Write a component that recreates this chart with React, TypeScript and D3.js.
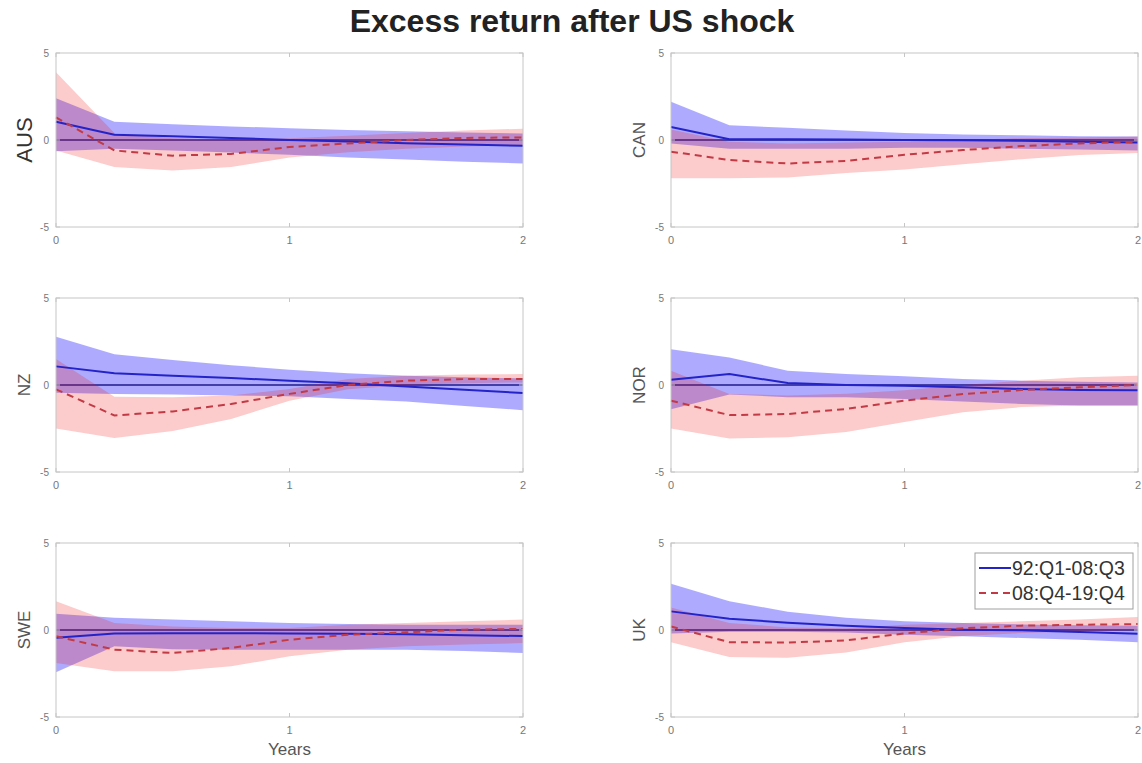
import React from 'react';
import * as d3 from 'd3';

// ---------- data ----------
const title = 'Excess return after US shock';
const xLabel = 'Years';
const horizon = [0, 0.25, 0.5, 0.75, 1, 1.25, 1.5, 1.75, 2];
const xTicks = [0, 1, 2];
const yTicks = [-5, 0, 5];
const countries = ['AUS', 'CAN', 'NZ', 'NOR', 'SWE', 'UK'];
const seriesLabels = ['92:Q1-08:Q3', '08:Q4-19:Q4'];

// pre-crisis sample (blue): median, lower, upper
const AUS_pre = [1.05, 0.3, 0.22, 0.12, 0.0, -0.08, -0.18, -0.26, -0.33];
const AUS_preLo = [-0.65, -0.5, -0.6, -0.72, -0.85, -1.0, -1.12, -1.25, -1.35];
const AUS_preHi = [2.4, 1.05, 0.9, 0.78, 0.68, 0.58, 0.5, 0.43, 0.38];
// post-crisis sample (red)
const AUS_post = [1.3, -0.6, -0.9, -0.8, -0.4, -0.2, 0.0, 0.12, 0.15];
const AUS_postLo = [-0.6, -1.55, -1.75, -1.55, -1.0, -0.7, -0.5, -0.38, -0.3];
const AUS_postHi = [3.9, 0.4, 0.1, 0.0, 0.1, 0.25, 0.4, 0.55, 0.65];

const CAN_pre = [0.75, 0.05, 0.05, 0.03, 0.0, -0.02, -0.05, -0.1, -0.15];
const CAN_preLo = [-0.2, -0.5, -0.5, -0.5, -0.45, -0.45, -0.5, -0.55, -0.6];
const CAN_preHi = [2.2, 0.85, 0.7, 0.55, 0.4, 0.32, 0.27, 0.22, 0.2];
const CAN_post = [-0.67, -1.15, -1.35, -1.2, -0.85, -0.58, -0.35, -0.2, -0.1];
const CAN_postLo = [-2.2, -2.2, -2.15, -1.9, -1.7, -1.4, -1.1, -0.86, -0.75];
const CAN_postHi = [0.6, -0.1, -0.2, -0.15, -0.1, 0.0, 0.1, 0.15, 0.2];

const NZ_pre = [1.07, 0.67, 0.53, 0.4, 0.25, 0.1, -0.08, -0.27, -0.46];
const NZ_preLo = [-0.45, -0.52, -0.55, -0.6, -0.65, -0.8, -0.95, -1.2, -1.45];
const NZ_preHi = [2.78, 1.77, 1.43, 1.14, 0.88, 0.67, 0.53, 0.44, 0.38];
const NZ_post = [-0.25, -1.75, -1.52, -1.09, -0.51, 0.0, 0.25, 0.34, 0.34];
const NZ_postLo = [-2.5, -3.05, -2.65, -1.95, -0.9, -0.25, 0.0, 0.1, 0.15];
const NZ_postHi = [1.5, -0.67, -0.7, -0.6, -0.23, 0.34, 0.53, 0.6, 0.63];

const NOR_pre = [0.3, 0.63, 0.11, 0.0, -0.04, -0.13, -0.23, -0.29, -0.3];
const NOR_preLo = [-1.4, -0.55, -0.7, -0.7, -0.8, -0.95, -1.09, -1.18, -1.18];
const NOR_preHi = [2.06, 1.58, 0.82, 0.63, 0.5, 0.34, 0.25, 0.19, 0.15];
const NOR_post = [-0.9, -1.73, -1.67, -1.38, -0.9, -0.52, -0.29, -0.13, 0.0];
const NOR_postLo = [-2.5, -3.08, -3.0, -2.7, -2.13, -1.56, -1.27, -1.18, -1.18];
const NOR_postHi = [0.82, -0.52, -0.6, -0.5, -0.3, 0.0, 0.25, 0.44, 0.53];

const SWE_pre = [-0.45, -0.2, -0.18, -0.18, -0.2, -0.22, -0.25, -0.3, -0.35];
const SWE_preLo = [-2.43, -0.94, -1.1, -1.13, -1.13, -1.13, -1.13, -1.2, -1.32];
const SWE_preHi = [0.94, 0.7, 0.6, 0.5, 0.4, 0.35, 0.3, 0.3, 0.3];
const SWE_post = [-0.36, -1.13, -1.32, -1.03, -0.56, -0.27, -0.13, 0.02, 0.06];
const SWE_postLo = [-1.9, -2.37, -2.37, -2.09, -1.51, -1.13, -0.94, -0.84, -0.75];
const SWE_postHi = [1.65, 0.4, 0.2, 0.11, 0.11, 0.3, 0.4, 0.5, 0.6];

const UK_pre = [1.07, 0.65, 0.42, 0.25, 0.11, 0.02, -0.02, -0.11, -0.21];
const UK_preLo = [-0.2, -0.1, -0.1, -0.15, -0.27, -0.36, -0.46, -0.56, -0.7];
const UK_preHi = [2.66, 1.65, 1.05, 0.7, 0.5, 0.4, 0.32, 0.28, 0.25];
const UK_post = [0.2, -0.7, -0.72, -0.6, -0.2, 0.1, 0.25, 0.3, 0.34];
const UK_postLo = [-0.7, -1.55, -1.6, -1.3, -0.7, -0.35, -0.17, -0.08, -0.02];
const UK_postHi = [1.3, 0.4, 0.15, 0.1, 0.3, 0.4, 0.5, 0.6, 0.75];

const panelData: Record<string, number[][]> = {
  AUS: [AUS_pre, AUS_preLo, AUS_preHi, AUS_post, AUS_postLo, AUS_postHi],
  CAN: [CAN_pre, CAN_preLo, CAN_preHi, CAN_post, CAN_postLo, CAN_postHi],
  NZ: [NZ_pre, NZ_preLo, NZ_preHi, NZ_post, NZ_postLo, NZ_postHi],
  NOR: [NOR_pre, NOR_preLo, NOR_preHi, NOR_post, NOR_postLo, NOR_postHi],
  SWE: [SWE_pre, SWE_preLo, SWE_preHi, SWE_post, SWE_postLo, SWE_postHi],
  UK: [UK_pre, UK_preLo, UK_preHi, UK_post, UK_postLo, UK_postHi],
};

// ---------- layout / style ----------
const W = 1142;
const H = 763;
const FONT = '"Liberation Sans", Arial, Helvetica, sans-serif';
const colX = [56, 671];
const plotW = 467;
const rowY = [53, 298, 543];
const plotH = 174;
const labelSize: Record<string, number> = { AUS: 22, CAN: 17, NZ: 17, NOR: 17, SWE: 17, UK: 17 };
const BLUE_FILL = 'rgba(10,0,255,0.33)';
const RED_FILL = 'rgba(240,20,20,0.22)';
const BLUE_LINE = '#2323c8';
const RED_LINE = '#c23a45';
const AXIS = '#c6c6c6';

function Panel({ name, idx }: { name: string; idx: number }) {
  const col = idx % 2;
  const row = Math.floor(idx / 2);
  const x0 = colX[col];
  const y0 = rowY[row];
  const x = d3.scaleLinear().domain([0, 2]).range([x0, x0 + plotW]);
  const y = d3.scaleLinear().domain([-5, 5]).range([y0 + plotH, y0]);
  const [pre, preLo, preHi, post, postLo, postHi] = panelData[name];

  const area = (lo: number[], hi: number[]) =>
    d3
      .area<number>()
      .x((d) => x(d))
      .y0((_, i) => y(lo[i]))
      .y1((_, i) => y(hi[i]))(horizon) || '';
  const line = (v: number[]) =>
    d3
      .line<number>()
      .x((d) => x(d))
      .y((_, i) => y(v[i]))(horizon) || '';

  const isBottom = row === 2;
  return (
    <g>
      <rect x={x0} y={y0} width={plotW} height={plotH} fill="#fff" />
      {/* zero line */}
      <line x1={x(0)} x2={x(2)} y1={y(0)} y2={y(0)} stroke="#2a2a55" strokeWidth={1.3} />
      <path d={area(preLo, preHi)} fill={BLUE_FILL} stroke="none" />
      <path d={area(postLo, postHi)} fill={RED_FILL} stroke="none" />
      <path d={line(pre)} fill="none" stroke={BLUE_LINE} strokeWidth={2} />
      <path d={line(post)} fill="none" stroke={RED_LINE} strokeWidth={2} strokeDasharray="7,5" />
      {/* box */}
      <rect x={x0} y={y0} width={plotW} height={plotH} fill="none" stroke={AXIS} strokeWidth={1} />
      {xTicks.map((t) => (
        <g key={'xt' + t}>
          <line x1={x(t)} x2={x(t)} y1={y0 + plotH} y2={y0 + plotH - 4} stroke={AXIS} />
          <line x1={x(t)} x2={x(t)} y1={y0} y2={y0 + 4} stroke={AXIS} />
          <text
            x={x(t)}
            y={y0 + plotH + 17}
            textAnchor="middle"
            fontSize={11}
            fill="#777"
            fontFamily={FONT}
          >
            {t}
          </text>
        </g>
      ))}
      {yTicks.map((t) => (
        <g key={'yt' + t}>
          <line x1={x0} x2={x0 + 4} y1={y(t)} y2={y(t)} stroke={AXIS} />
          <line x1={x0 + plotW} x2={x0 + plotW - 4} y1={y(t)} y2={y(t)} stroke={AXIS} />
          <text
            x={x0 - 7}
            y={y(t)}
            dy="0.35em"
            textAnchor="end"
            fontSize={10}
            fill="#777"
            fontFamily={FONT}
          >
            {t}
          </text>
        </g>
      ))}
      <text
        transform={`translate(${x0 - 32},${y(0)}) rotate(-90)`}
        textAnchor="middle"
        dy="0.35em"
        fontSize={labelSize[name]}
        fill={name === 'AUS' ? '#333' : '#555'}
        fontFamily={FONT}
      >
        {name}
      </text>
      {isBottom && (
        <text
          x={x(1)}
          y={y0 + plotH + 38}
          textAnchor="middle"
          fontSize={17}
          fill="#555"
          fontFamily={FONT}
        >
          {xLabel}
        </text>
      )}
    </g>
  );
}

function Legend() {
  const lx = 975;
  const ly = 553;
  const rows = [ly + 15, ly + 40];
  return (
    <g>
      <rect x={lx} y={ly} width={158} height={56} fill="#fff" stroke="#a0a0a0" strokeWidth={1} />
      <line x1={lx + 4} x2={lx + 36} y1={rows[0]} y2={rows[0]} stroke={BLUE_LINE} strokeWidth={2} />
      <line
        x1={lx + 4}
        x2={lx + 36}
        y1={rows[1]}
        y2={rows[1]}
        stroke={RED_LINE}
        strokeWidth={2}
        strokeDasharray="7,5"
      />
      {seriesLabels.map((s, i) => (
        <text
          key={s}
          x={lx + 37}
          y={rows[i]}
          dy="0.35em"
          fontSize={19.5}
          fill="#333"
          fontFamily={FONT}
        >
          {s}
        </text>
      ))}
    </g>
  );
}

export default function App() {
  return (
    <svg
      width={W}
      height={H}
      viewBox={`0 0 ${W} ${H}`}
      style={{ position: 'absolute', left: 0, top: 0, background: '#fff' }}
    >
      <rect x={0} y={0} width={W} height={H} fill="#fff" />
      <text
        x={572}
        y={32}
        textAnchor="middle"
        fontSize={32}
        fontWeight="bold"
        fill="#222"
        fontFamily={FONT}
      >
        {title}
      </text>
      {countries.map((c, i) => (
        <Panel key={c} name={c} idx={i} />
      ))}
      <Legend />
    </svg>
  );
}
